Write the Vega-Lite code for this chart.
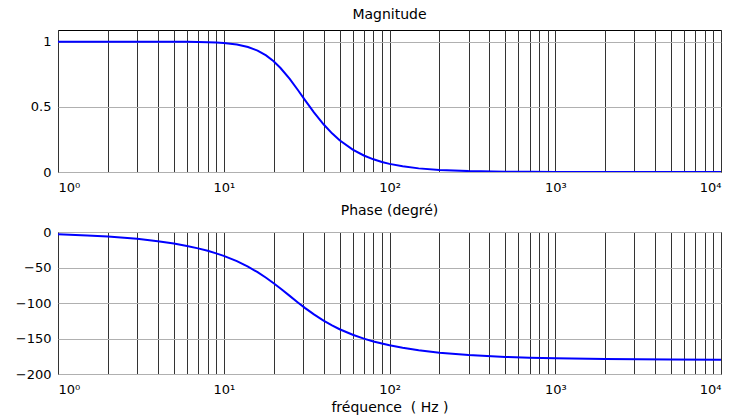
{
  "$schema": "https://vega.github.io/schema/vega-lite/v6.json",
  "background": "white",
  "padding": {"top": 7, "left": 14, "right": 0, "bottom": 0},
  "config": {
    "font": "DejaVu Sans",
    "view": {"stroke": "black", "strokeWidth": 1},
    "axis": {
      "labelFont": "DejaVu Sans",
      "labelFontSize": 13,
      "labelColor": "black",
      "domain": false,
      "ticks": false,
      "gridOpacity": 1,
      "gridWidth": 1,
      "titleFont": "DejaVu Sans",
      "titleFontSize": 14,
      "titleFontWeight": "normal",
      "titleColor": "black"
    },
    "title": {"font": "DejaVu Sans", "fontSize": 14, "fontWeight": "normal", "color": "black", "offset": 8}
  },
  "datasets": {
    "bode": [
      {"f": 1, "mag": 1.0, "phase": -3.21},
      {"f": 1.5, "mag": 1.0, "phase": -4.82},
      {"f": 2, "mag": 1.0, "phase": -6.43},
      {"f": 3, "mag": 1.0, "phase": -9.67},
      {"f": 4, "mag": 1.0, "phase": -12.95},
      {"f": 5, "mag": 1.0, "phase": -16.26},
      {"f": 6, "mag": 0.9995, "phase": -19.62},
      {"f": 7, "mag": 0.9985, "phase": -23.04},
      {"f": 8, "mag": 0.9968, "phase": -26.52},
      {"f": 9, "mag": 0.9942, "phase": -30.07},
      {"f": 10, "mag": 0.9905, "phase": -33.69},
      {"f": 12, "mag": 0.9788, "phase": -41.12},
      {"f": 14, "mag": 0.9597, "phase": -48.79},
      {"f": 16, "mag": 0.9319, "phase": -56.62},
      {"f": 18, "mag": 0.8952, "phase": -64.47},
      {"f": 20, "mag": 0.85, "phase": -72.18},
      {"f": 22, "mag": 0.7984, "phase": -79.62},
      {"f": 25, "mag": 0.7143, "phase": -90.0},
      {"f": 28, "mag": 0.6295, "phase": -99.22},
      {"f": 31, "mag": 0.5503, "phase": -107.21},
      {"f": 35, "mag": 0.4582, "phase": -116.1},
      {"f": 40, "mag": 0.3663, "phase": -124.85},
      {"f": 45, "mag": 0.2966, "phase": -131.63},
      {"f": 50, "mag": 0.2437, "phase": -136.97},
      {"f": 60, "mag": 0.1716, "phase": -144.78},
      {"f": 70, "mag": 0.1268, "phase": -150.18},
      {"f": 80, "mag": 0.0974, "phase": -154.13},
      {"f": 90, "mag": 0.0771, "phase": -157.15},
      {"f": 100, "mag": 0.0625, "phase": -159.53},
      {"f": 120, "mag": 0.0434, "phase": -163.04},
      {"f": 150, "mag": 0.0278, "phase": -166.5},
      {"f": 200, "mag": 0.0156, "phase": -169.92},
      {"f": 300, "mag": 0.007, "phase": -173.3},
      {"f": 500, "mag": 0.0025, "phase": -175.99},
      {"f": 700, "mag": 0.0013, "phase": -177.13},
      {"f": 1000, "mag": 0.0006, "phase": -177.99},
      {"f": 2000, "mag": 0.0002, "phase": -179.0},
      {"f": 5000, "mag": 0.0, "phase": -179.6},
      {"f": 10000, "mag": 0.0, "phase": -179.8}
    ]
  },
  "spacing": 60,
  "bounds": "flush",
  "vconcat": [
    {
      "title": "Magnitude",
      "width": 663,
      "height": 142,
      "data": {"name": "bode"},
      "mark": {"type": "line", "color": "#0000ff", "strokeWidth": 2, "clip": true},
      "encoding": {
        "x": {
          "field": "f", "type": "quantitative",
          "scale": {"type": "log", "domain": [1, 10000], "nice": false},
          "axis": {
            "title": null,
            "values": [1,2,3,4,5,6,7,8,9,10,20,30,40,50,60,70,80,90,100,200,300,400,500,600,700,800,900,1000,2000,3000,4000,5000,6000,7000,8000,9000,10000],
            "labelExpr": "datum.value == 1 ? '10⁰' : datum.value == 10 ? '10¹' : datum.value == 100 ? '10²' : datum.value == 1000 ? '10³' : datum.value == 10000 ? '10⁴' : ''",
            "labelPadding": 9,
            "labelOverlap": false,
            "gridColor": "#333333"
          }
        },
        "y": {
          "field": "mag", "type": "quantitative",
          "scale": {"domain": [0, 1.09], "nice": false, "zero": false},
          "axis": {"title": null, "values": [0, 0.5, 1], "format": "~g", "labelPadding": 7, "gridColor": "#b0b0b0"}
        }
      }
    },
    {
      "title": "Phase (degré)",
      "width": 663,
      "height": 142,
      "data": {"name": "bode"},
      "mark": {"type": "line", "color": "#0000ff", "strokeWidth": 2, "clip": true},
      "encoding": {
        "x": {
          "field": "f", "type": "quantitative",
          "scale": {"type": "log", "domain": [1, 10000], "nice": false},
          "axis": {
            "title": "fréquence\u00a0\u00a0(\u00a0Hz\u00a0)",
            "titlePadding": 4,
            "values": [1,2,3,4,5,6,7,8,9,10,20,30,40,50,60,70,80,90,100,200,300,400,500,600,700,800,900,1000,2000,3000,4000,5000,6000,7000,8000,9000,10000],
            "labelExpr": "datum.value == 1 ? '10⁰' : datum.value == 10 ? '10¹' : datum.value == 100 ? '10²' : datum.value == 1000 ? '10³' : datum.value == 10000 ? '10⁴' : ''",
            "labelPadding": 9,
            "labelOverlap": false,
            "gridColor": "#333333"
          }
        },
        "y": {
          "field": "phase", "type": "quantitative",
          "scale": {"domain": [-200, 0], "nice": false, "zero": false},
          "axis": {"title": null, "values": [-200, -150, -100, -50, 0], "labelPadding": 7, "gridColor": "#b0b0b0"}
        }
      }
    }
  ]
}
